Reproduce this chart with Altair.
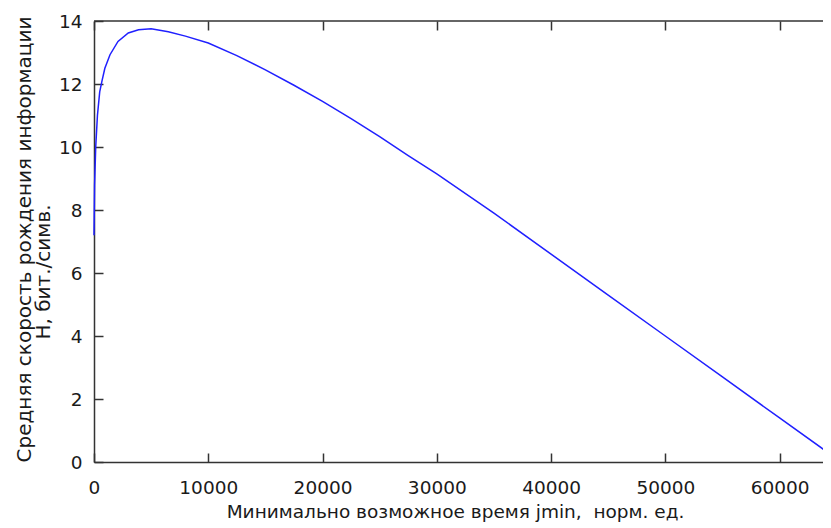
import altair as alt
import pandas as pd

# Curve values
x_vals = [0, 50, 150, 300, 500, 700, 950, 1400, 2100, 3000, 3900, 5000, 6500, 8000,
          10000, 12500, 15000, 17500, 20000, 22500, 25000, 27500, 30000, 35000,
          40000, 45000, 50000, 55000, 60000, 64500]
y_vals = [7.2, 8.8, 10.0, 11.0, 11.75, 12.1, 12.5, 12.93, 13.35, 13.62, 13.72, 13.75,
          13.66, 13.52, 13.3, 12.9, 12.45, 11.96, 11.45, 10.9, 10.33, 9.73, 9.15, 7.9,
          6.6, 5.3, 4.0, 2.7, 1.4, 0.23]

x_ticks = [0, 10000, 20000, 30000, 40000, 50000, 60000]
y_ticks = [0, 2, 4, 6, 8, 10, 12, 14]

x_title = "Минимально возможное время jmin,\u00a0 норм. ед."
y_title_1 = "Средняя скорость рождения информации"
y_title_2 = "H,\u00a0бит./симв."

W, H = 729, 441
FONT = "DejaVu Sans"
AX = "#333333"
TXT = "#1a1a1a"
TICK = 9

xscale = alt.Scale(domain=[0, 63800], nice=False, zero=False)
yscale = alt.Scale(domain=[0, 14], nice=False)

# main axes: domain line, labels and titles
xaxis = alt.Axis(values=x_ticks, format="d", title=x_title, grid=False, ticks=False,
                 domain=True, domainColor=AX, domainWidth=1.5,
                 labelPadding=16.5, labelFontSize=18.5, labelFont=FONT,
                 labelColor=TXT, labelFlush=False, labelOverlap=False,
                 titleFont=FONT, titleFontSize=18.5, titleFontWeight="normal",
                 titleColor=TXT, titleX=361, titleY=40, titleAlign="center",
                 titleBaseline="top")
yaxis = alt.Axis(values=y_ticks, title=y_title_1, grid=False, ticks=False,
                 domain=True, domainColor=AX, domainWidth=1.5,
                 labelPadding=12, labelFontSize=18.5, labelFont=FONT,
                 labelColor=TXT, labelFlush=False, labelOverlap=False,
                 titleFont=FONT, titleFontSize=20, titleFontWeight="normal",
                 titleColor=TXT, titleAngle=270, titleX=-80, titleY=218,
                 titleAlign="center", titleBaseline="top")

# tick-only axes shifted into the plot so that their ticks point inward
tick_common = dict(grid=False, domain=False, labels=False, title=None, ticks=True,
                   tickSize=TICK, tickColor=AX, tickWidth=1.5,
                   offset={"expr": str(-TICK)})
xaxis_in = alt.Axis(values=x_ticks, orient="bottom", **tick_common)
yaxis_in = alt.Axis(values=y_ticks, orient="left", **tick_common)
xaxis_top = alt.Axis(values=x_ticks, orient="top", **tick_common)

curve = pd.DataFrame({"x": x_vals, "y": y_vals})
lab = pd.DataFrame({"t": [y_title_2]})

line = alt.Chart(curve).mark_line(color="#2020ff", strokeWidth=1.5).encode(
    x=alt.X("x:Q", scale=xscale, axis=xaxis),
    y=alt.Y("y:Q", scale=yscale, axis=yaxis),
)

ticks_in = alt.Chart(curve).mark_line(strokeOpacity=0).encode(
    x=alt.X("x:Q", scale=xscale, axis=xaxis_in),
    y=alt.Y("y:Q", scale=yscale, axis=yaxis_in),
)

ticks_top = alt.Chart(curve).mark_line(strokeOpacity=0).encode(
    x=alt.X("x:Q", scale=xscale, axis=xaxis_top),
    y=alt.Y("y:Q", scale=yscale, axis=None),
)

top_border = alt.Chart(lab).mark_rule(color=AX, strokeWidth=1.5).encode(
    x=alt.value(0), x2=alt.value(W + 2), y=alt.value(0),
)

second_line = alt.Chart(lab).mark_text(
    font=FONT, fontSize=20, color=TXT, angle=270, align="center", baseline="top"
).encode(text="t:N", x=alt.value(-60), y=alt.value(251))

chart = alt.layer(line, ticks_in, ticks_top, top_border, second_line
                  ).resolve_axis(x="independent", y="independent").properties(
    width=W, height=H,
    autosize=alt.AutoSizeParams(type="none"),
    padding={"left": 86, "top": 13, "right": 0, "bottom": 62},
).configure_view(stroke=None)

chart.save("out.html", embed_options={"renderer": "svg", "actions": False})
